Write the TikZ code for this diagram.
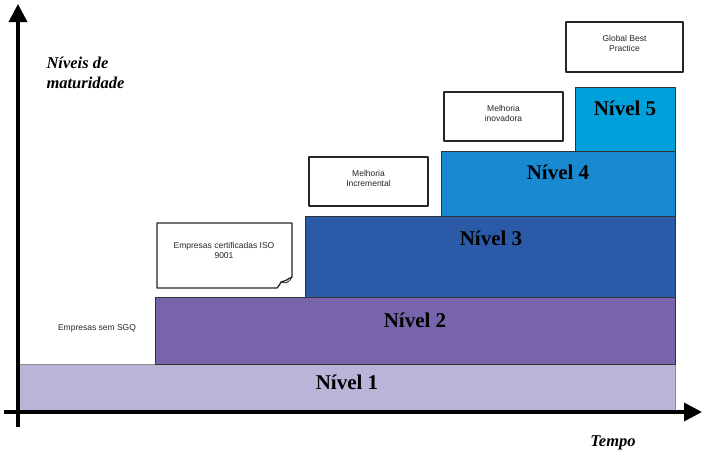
\documentclass[tikz,border=0pt]{standalone}
\usepackage{fontspec}
\setmainfont{Liberation Serif}
\setsansfont{Liberation Sans}
\usetikzlibrary{arrows.meta}
\definecolor{lvlA}{RGB}{186,180,216}
\definecolor{lvlB}{RGB}{120,100,170}
\definecolor{lvlC}{RGB}{42,90,168}
\definecolor{lvlD}{RGB}{26,138,208}
\definecolor{lvlE}{RGB}{0,160,218}
\tikzset{
  nivel/.style={font=\fontsize{21}{21}\selectfont\bfseries, text=black},
  nota/.style={draw=black!85, line width=1.3pt, fill=white},
  notatxt/.style={font=\sffamily\fontsize{8.5}{10}\selectfont, align=center, text=black!85},
  eixotxt/.style={font=\fontsize{16.5}{20}\selectfont\bfseries\itshape, align=left},
  eixo/.style={line width=3.6pt, -{Triangle[length=18pt,width=18pt]}}
}
\begin{document}
\begin{tikzpicture}[x=1pt, y=-1pt, line join=round]
\useasboundingbox (0,0) rectangle (702,455);
\def\xr{675}
% niveis
\filldraw[fill=lvlA, draw=black!45, line width=.6pt] (19,364) rectangle (\xr,411);
\filldraw[fill=lvlB, draw=black!80, line width=.8pt] (155,297) rectangle (\xr,364);
\filldraw[fill=lvlC, draw=black!80, line width=.8pt] (305,216) rectangle (\xr,297);
\filldraw[fill=lvlD, draw=black!80, line width=.8pt] (441,151) rectangle (\xr,216);
\filldraw[fill=lvlE, draw=black!80, line width=.8pt] (575,87) rectangle (\xr,151);
\node[nivel] (n1) at (347,382) {Nível 1};
\node[nivel] (n2) at (415,320) {Nível 2};
\node[nivel] (n3) at (491,238) {Nível 3};
\node[nivel] (n4) at (558,172) {Nível 4};
\node[nivel] (n5) at (625,108) {Nível 5};
% notas
\draw[nota] (566,22) rectangle (683,72);
\node[notatxt] (gbp) at (624.5,43) {Global Best\\Practice};
\draw[nota] (444,92) rectangle (563,141);
\node[notatxt] (inov) at (503.5,113) {Melhoria\\inovadora};
\draw[nota] (309,157) rectangle (428,206);
\node[notatxt] (incr) at (368.5,178) {Melhoria\\Incremental};
\draw[nota] (157,223) -- (292,223) -- (292,277) .. controls (288,279) and (286,281) .. (281,282)
  .. controls (280,284) and (279,286) .. (277,288) -- (157,288) -- cycle;
\draw[black!85, line width=.8pt] (281,282) .. controls (285,284) and (289,283) .. (292,277);
\node[notatxt] (iso) at (224,250) {Empresas certificadas ISO\\9001};
\node[notatxt] (sgq) at (97,328) {Empresas sem SGQ};
% eixos
\draw[eixo] (4,412) -- (702,412);
\draw[eixo] (18,427) -- (18,4);
\node[eixotxt, anchor=north west] (ylab) at (43,54) {Níveis de\\maturidade};
\node[eixotxt] (xlab) at (613,443) {Tempo};
\end{tikzpicture}
\end{document}
